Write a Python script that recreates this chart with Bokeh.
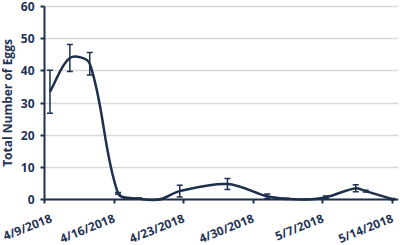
from bokeh.plotting import figure
from bokeh.models import FixedTicker, ColumnDataSource, Whisker, BoxAnnotation
from bokeh.embed import file_html
from bokeh.resources import INLINE

# days since 4/9/2018
days = [0.55, 2.55, 4.55, 7.4, 9.5, 11.5, 13.6, 18.4, 22.4, 24.3, 26.3, 28.3, 31.3, 32.3, 35.0]
eggs = [33.5, 44.0, 42.2, 1.9, 0.3, 0.0, 2.6, 4.8, 1.0, 0.2, 0.0, 0.7, 3.5, 2.6, 0.1]
err = [6.7, 4.2, 3.5, 0.3, 0.2, 0.0, 1.8, 1.7, 0.7, 0.2, 0.0, 0.4, 1.1, 0.3, 0.2]
tick_days = [0, 7, 14, 21, 28, 35]
tick_labels = ["4/9/2018", "4/16/2018", "4/23/2018", "4/30/2018", "5/7/2018", "5/14/2018"]
y_ticks = [0, 10, 20, 30, 40, 50, 60]

NAVY = "#1c2f4e"
TEXT = "#1f3356"

X_END = 35.6
W, H = 400, 245
BL, BR, BT = 44, 2, 6      # room left of the y axis, right margin, room above 60
PLOT_H = 193               # pixels from 0 to 60
BELOW = H - BT - PLOT_H    # room under the x axis for the rotated labels
sy = PLOT_H / 60.0
sx = (W - BL - BR) / X_END

p = figure(width=W, height=H, output_backend="svg", toolbar_location=None,
           x_range=(-BL / sx, X_END), y_range=(-BELOW / sy, 60 + BT / sy),
           min_border=0, min_border_right=BR)
p.outline_line_color = None
p.background_fill_color = "white"

# white mask so grid lines start at the y axis
p.add_layout(BoxAnnotation(right=0, fill_color="white", fill_alpha=1.0,
                           line_alpha=0, level="glyph"))

# smoothed line as Bezier segments; tangents scaled by chord length in screen space
px = [d * sx for d in days]
py = [v * sy for v in eggs]
n = len(days)

def dist(i, j):
    return ((px[i] - px[j]) ** 2 + (py[i] - py[j]) ** 2) ** 0.5

tx, ty = [], []
for i in range(n):
    a = max(i - 1, 0)
    b = min(i + 1, n - 1)
    tot = dist(a, i) + dist(i, b)
    tx.append((px[b] - px[a]) / tot)
    ty.append((py[b] - py[a]) / tot)

x0, y0, x1, y1, cx0, cy0, cx1, cy1 = [], [], [], [], [], [], [], []
for i in range(n - 1):
    d = dist(i, i + 1) / 3.0
    x0.append(days[i]); y0.append(eggs[i])
    x1.append(days[i + 1]); y1.append(eggs[i + 1])
    cx0.append((px[i] + tx[i] * d) / sx)
    cy0.append((py[i] + ty[i] * d) / sy)
    cx1.append((px[i + 1] - tx[i + 1] * d) / sx)
    cy1.append((py[i + 1] - ty[i + 1] * d) / sy)
p.bezier(x0=x0, y0=y0, x1=x1, y1=y1, cx0=cx0, cy0=cy0, cx1=cx1, cy1=cy1,
         line_color=NAVY, line_width=2.5)

src = ColumnDataSource(dict(x=days,
                            lo=[v - e for v, e in zip(eggs, err)],
                            hi=[v + e for v, e in zip(eggs, err)]))
w = Whisker(base="x", lower="lo", upper="hi", source=src, line_color=NAVY, line_width=1.5)
for h in (w.upper_head, w.lower_head):
    h.size = 6
    h.line_color = NAVY
    h.line_width = 1.5
p.add_layout(w)

p.xgrid.grid_line_color = None
p.ygrid.grid_line_color = "#d9d9d9"
p.ygrid.grid_line_width = 1.5

p.yaxis.ticker = FixedTicker(ticks=y_ticks)
p.yaxis.bounds = (0, 60)
p.yaxis.fixed_location = 0
p.xaxis.ticker = FixedTicker(ticks=tick_days)
p.xaxis.bounds = (0, X_END)
p.xaxis.fixed_location = 0
p.xaxis.major_label_overrides = {d: l for d, l in zip(tick_days, tick_labels)}
p.xaxis.major_label_orientation = 0.38

for ax in (p.xaxis, p.yaxis):
    ax.axis_line_color = NAVY
    ax.axis_line_width = 2
    ax.major_tick_line_color = NAVY
    ax.major_tick_line_width = 2
    ax.major_tick_out = 4
    ax.major_tick_in = 0
    ax.minor_tick_line_color = None
    ax.major_label_text_font = "Open Sans"
    ax.major_label_text_font_style = "bold"
    ax.major_label_text_font_size = "12px"
    ax.major_label_text_color = TEXT

p.xaxis.major_label_standoff = 14
p.yaxis.major_label_standoff = 6
p.yaxis.axis_label = "Total Number of Eggs"
p.yaxis.axis_label_text_font = "Open Sans"
p.yaxis.axis_label_text_font_style = "bold"
p.yaxis.axis_label_text_font_size = "12px"
p.yaxis.axis_label_text_color = TEXT
p.yaxis.axis_label_standoff = 2

open("out.html", "w").write(file_html(p, INLINE))
